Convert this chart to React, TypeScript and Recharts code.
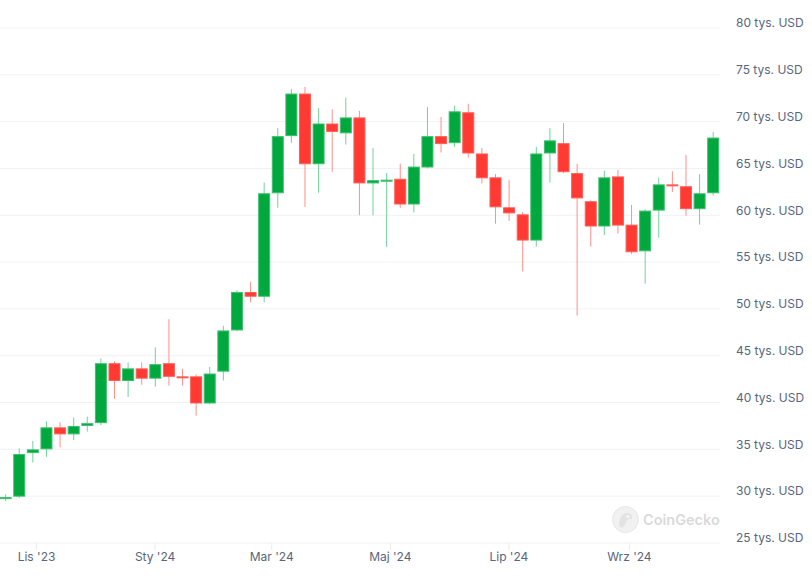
import React from 'react';
import { ComposedChart, Bar, XAxis, YAxis, CartesianGrid } from 'recharts';

// Weekly candles, week start dates
const weeks = [
  '2023-10-16','2023-10-23','2023-10-30','2023-11-06','2023-11-13','2023-11-20','2023-11-27',
  '2023-12-04','2023-12-11','2023-12-18','2023-12-25','2024-01-01','2024-01-08','2024-01-15',
  '2024-01-22','2024-01-29','2024-02-05','2024-02-12','2024-02-19','2024-02-26','2024-03-04',
  '2024-03-11','2024-03-18','2024-03-25','2024-04-01','2024-04-08','2024-04-15','2024-04-22',
  '2024-04-29','2024-05-06','2024-05-13','2024-05-20','2024-05-27','2024-06-03','2024-06-10',
  '2024-06-17','2024-06-24','2024-07-01','2024-07-08','2024-07-15','2024-07-22','2024-07-29',
  '2024-08-05','2024-08-12','2024-08-19','2024-08-26','2024-09-02','2024-09-09','2024-09-16',
  '2024-09-23','2024-09-30','2024-10-07','2024-10-14',
];

// values in thousands of USD
const opens = [
  29.7, 29.95, 34.6, 35.0, 37.35, 36.6, 37.5,
  37.8, 44.2, 42.3, 43.65, 42.55, 44.2, 42.8,
  42.8, 39.9, 43.3, 47.7, 51.8, 51.3, 62.35,
  68.45, 73.0, 65.45, 69.8, 68.75, 70.45, 63.4,
  63.6, 63.9, 61.15, 65.1, 68.45, 67.7, 71.0,
  66.6, 64.05, 60.85, 60.1, 57.3, 66.6, 67.7,
  64.5, 61.5, 58.8, 64.15, 59.0, 56.15, 60.5,
  63.3, 63.1, 60.65, 62.35,
];
const closes = [
  29.9, 34.5, 35.0, 37.35, 36.6, 37.5, 37.8,
  44.2, 42.3, 43.65, 42.55, 44.1, 42.75, 42.65,
  39.9, 43.1, 47.7, 51.8, 51.3, 62.35, 68.45,
  73.0, 65.45, 69.8, 68.9, 70.45, 63.4, 63.75,
  63.8, 61.15, 65.2, 68.45, 67.6, 71.1, 66.6,
  63.95, 60.85, 60.2, 57.3, 66.6, 68.0, 64.6,
  61.8, 58.8, 64.05, 58.9, 56.05, 60.5, 63.3,
  63.1, 60.65, 62.35, 68.3,
];
const highs = [
  30.2, 35.1, 35.9, 38.0, 37.9, 38.4, 38.5,
  44.7, 44.4, 44.3, 44.3, 45.9, 48.9, 43.6,
  43.0, 43.8, 48.2, 52.0, 52.9, 63.5, 69.3,
  73.5, 73.7, 71.45, 71.3, 72.55, 71.15, 67.2,
  64.5, 65.5, 66.55, 71.55, 70.5, 71.7, 71.9,
  67.2, 64.4, 63.75, 60.35, 67.3, 69.3, 69.85,
  65.5, 61.6, 64.75, 64.85, 61.1, 60.65, 64.05,
  64.7, 66.45, 64.4, 68.9,
];
const lows = [
  29.5, 29.8, 33.6, 34.2, 35.2, 36.0, 36.9,
  37.6, 40.4, 40.6, 41.9, 41.7, 41.8, 41.8,
  38.6, 39.8, 42.35, 47.6, 50.7, 50.7, 60.8,
  67.75, 60.9, 62.4, 64.65, 67.55, 60.0, 60.0,
  56.6, 60.8, 60.3, 65.0, 66.7, 67.3, 66.15,
  63.4, 59.1, 59.4, 54.0, 56.65, 63.5, 64.5,
  49.3, 56.65, 57.9, 58.05, 55.85, 52.7, 57.6,
  62.5, 59.95, 59.0, 62.1,
];

const monthTickDates = ['2023-11-01', '2024-01-01', '2024-03-01', '2024-05-01', '2024-07-01', '2024-09-01'];
const monthTickLabels = ["Lis '23", "Sty '24", "Mar '24", "Maj '24", "Lip '24", "Wrz '24"];
const priceTicks = [25, 30, 35, 40, 45, 50, 55, 60, 65, 70, 75, 80];

const DAY = 86400000;
const origin = Date.parse(weeks[0]);
const toDay = (s: string) => (Date.parse(s) - origin) / DAY;

const data = weeks.map((w, i) => ({
  t: toDay(w),
  open: opens[i],
  close: closes[i],
  high: highs[i],
  low: lows[i],
}));
const xTicks = monthTickDates.map(toDay);
const labelByDay: Record<number, string> = {};
xTicks.forEach((d, i) => { labelByDay[d] = monthTickLabels[i]; });

const GREEN = '#00a83e';
const GREEN_BORDER = '#3cbf6e';
const GREEN_WICK = '#72d29a';
const RED = '#ff3a33';
const RED_BORDER = '#ff5e58';
const RED_WICK = '#ff8f8a';

const Candle = (props: any) => {
  const { x, y, width, height, payload } = props;
  if (x == null || y == null) return null;
  const { open, close, high, low } = payload;
  const up = close >= open;
  const ratio = high - low > 0 ? height / (high - low) : 0;
  const top = y + (high - Math.max(open, close)) * ratio;
  let bottom = y + (high - Math.min(open, close)) * ratio;
  if (bottom - top < 2) bottom = top + 2;
  const cx = x + width / 2;
  return (
    <g>
      <line x1={cx} x2={cx} y1={y} y2={y + height} stroke={up ? GREEN_WICK : RED_WICK} strokeWidth={1} />
      <rect
        x={x + 0.5}
        y={top + 0.5}
        width={width - 1}
        height={Math.max(bottom - top - 1, 1)}
        fill={up ? GREEN : RED}
        stroke={up ? GREEN_BORDER : RED_BORDER}
        strokeWidth={1}
      />
    </g>
  );
};

const YTick = (props: any) => {
  const { x, y, payload } = props;
  return (
    <text x={x} y={y - 4} textAnchor="start" dominantBaseline="middle" fill="#58667e" fontSize={12} fontFamily="Inter, sans-serif">
      {`${payload.value} tys. USD`}
    </text>
  );
};

const XTick = (props: any) => {
  const { x, y, payload } = props;
  return (
    <g>
      <line x1={x} x2={x} y1={y - 8} y2={y - 1} stroke="#e9ecf0" />
      <text x={x} y={y + 7} textAnchor="middle" dominantBaseline="middle" fill="#58667e" fontSize={12} fontFamily="Inter, sans-serif">
        {labelByDay[payload.value] ?? ''}
      </text>
    </g>
  );
};

export default function App() {
  return (
    <div style={{ position: 'absolute', left: 0, top: 0, width: 812, height: 582, background: '#fff' }}>
      <ComposedChart width={812} height={582} data={data} margin={{ top: 28, right: 0, left: 0, bottom: 0 }}>
        <CartesianGrid vertical={false} stroke="#eff2f5" />
        <XAxis
          dataKey="t"
          type="number"
          domain={[-2.8, 367.6]}
          ticks={xTicks}
          height={39}
          axisLine={false}
          tickLine={false}
          tickSize={8}
          tickMargin={0}
          tick={<XTick />}
          allowDataOverflow
        />
        <YAxis
          orientation="right"
          domain={[25, 80]}
          ticks={priceTicks}
          width={92}
          axisLine={false}
          tickLine={false}
          tickSize={0}
          tickMargin={16}
          tick={<YTick />}
          allowDataOverflow
        />
        <Bar
          dataKey={(d: any) => [d.low, d.high]}
          barSize={12}
          shape={<Candle />}
          isAnimationActive={false}
        />
      </ComposedChart>
      <div style={{ position: 'absolute', left: 612, top: 506, display: 'flex', alignItems: 'center', pointerEvents: 'none' }}>
        <svg width={27} height={27} viewBox="0 0 27 27">
          <circle cx={13.5} cy={13.5} r={13} fill="#f1f1f1" stroke="#e6e6e6" />
          <path d="M7 20 C7 12 10 7 15 7 C19 7 21 10 20 13 C18 12 15 13 14 16 C13 19 12 21 10 22 Z" fill="#e3e3e3" />
          <circle cx={16} cy={10.5} r={1.6} fill="#f7f7f7" />
        </svg>
        <span style={{ marginLeft: 4, fontFamily: 'Inter, sans-serif', fontSize: 14.5, fontWeight: 600, color: '#dadada' }}>CoinGecko</span>
      </div>
    </div>
  );
}
